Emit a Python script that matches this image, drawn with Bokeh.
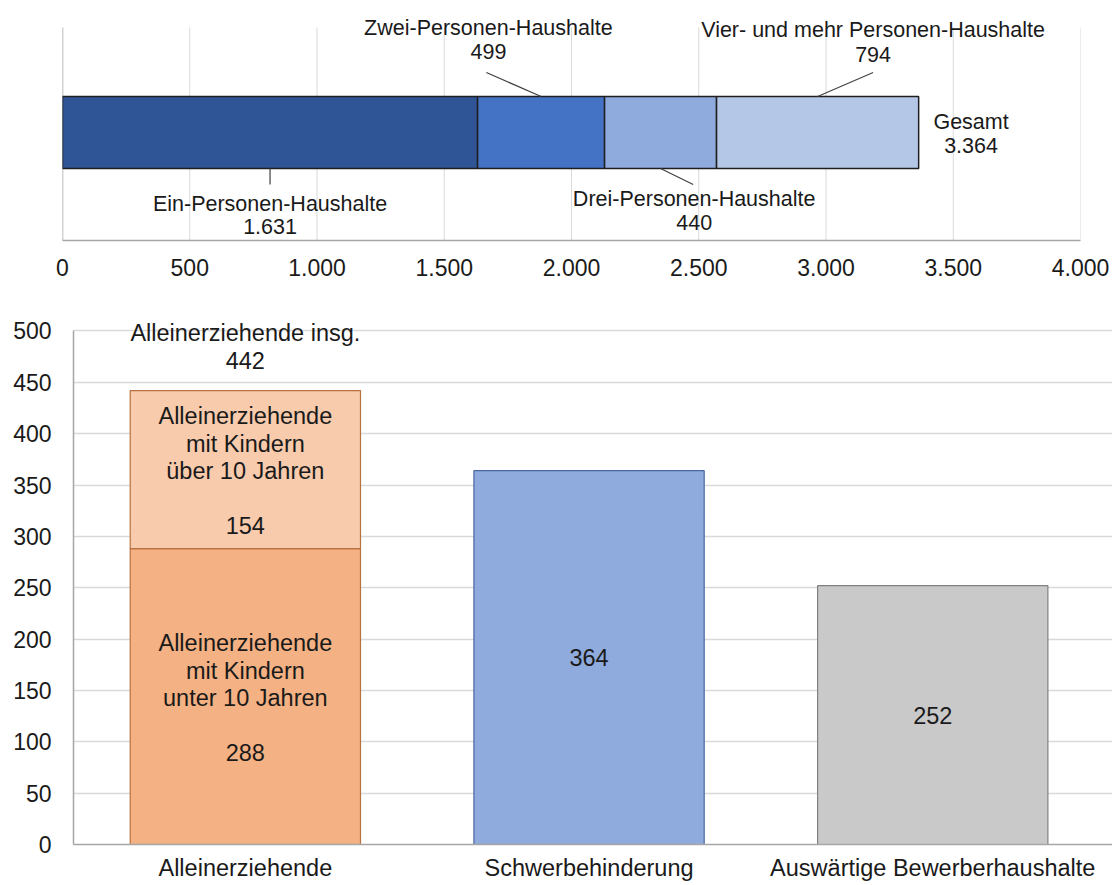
from bokeh.plotting import figure
from bokeh.models import Range1d, FixedTicker, ColumnDataSource, LabelSet
from bokeh.core.properties import value
from bokeh.embed import file_html
from bokeh.resources import INLINE

# ---------------- data: household sizes (top) ----------------
hh_names = ["Ein-Personen-Haushalte", "Zwei-Personen-Haushalte",
            "Drei-Personen-Haushalte", "Vier- und mehr Personen-Haushalte"]
hh_values = [1631, 499, 440, 794]
hh_colors = ["#2F5597", "#4472C4", "#8FAADC", "#B4C7E7"]
total_name = "Gesamt"
x_ticks = [0, 500, 1000, 1500, 2000, 2500, 3000, 3500, 4000]
x_tick_labels = ["0", "500", "1.000", "1.500", "2.000", "2.500", "3.000", "3.500", "4.000"]

# ---------------- data: special groups (bottom) ----------------
categories = ["Alleinerziehende", "Schwerbehinderung", "Auswärtige Bewerberhaushalte"]
ae_under10 = 288
ae_over10 = 154
schwerbehinderung = 364
auswaertig = 252
y_ticks = [0, 50, 100, 150, 200, 250, 300, 350, 400, 450, 500]

FONT = "Liberation Sans"
TXT = "#1A1A1A"


def de(v):
    return f"{v:,}".replace(",", ".")


def add_labels(p, xs, ys, texts, size):
    src = ColumnDataSource(dict(x=xs, y=ys, t=texts))
    p.add_layout(LabelSet(x="x", y="y", text="t", source=src, text_align="center",
                          text_baseline="middle", text_font=value(FONT),
                          text_font_size=value(size), text_color=TXT))


# ================= top chart =================
lefts, rights = [], []
acc = 0
for v in hh_values:
    lefts.append(acc)
    acc += v
    rights.append(acc)
total = acc
mids = [(l + r) / 2 for l, r in zip(lefts, rights)]

Y0, GRID_TOP, Y1 = -1.014, 0.986, 1.2395
p1 = figure(width=1112, height=292, x_range=Range1d(0, 4000), y_range=Range1d(Y0, Y1),
            output_backend="svg", toolbar_location=None,
            min_border_left=62, min_border_right=32, min_border_top=0, min_border_bottom=52)
p1.outline_line_color = None
p1.xgrid.grid_line_color = None
p1.ygrid.grid_line_color = None
p1.yaxis.visible = False

# vertical gridlines at the ticks, stopping at the chart area top
n = len(x_ticks) - 1
p1.segment(x0=x_ticks[1:], y0=[Y0] * n, x1=x_ticks[1:], y1=[GRID_TOP] * n,
           line_color="#D9D9D9", line_width=1)
p1.segment(x0=[x_ticks[0]], y0=[Y0], x1=[x_ticks[0]], y1=[GRID_TOP],
           line_color="#A6A6A6", line_width=1.5)

src1 = ColumnDataSource(dict(y=[0] * len(hh_values), left=lefts, right=rights, c=hh_colors))
p1.hbar(y="y", left="left", right="right", height=0.676, fill_color="c",
        line_color="#1F1F1F", line_width=1.5, source=src1)

p1.xaxis.ticker = FixedTicker(ticks=x_ticks)
p1.xaxis.major_label_overrides = {t: l for t, l in zip(x_ticks, x_tick_labels)}
p1.xaxis.major_label_text_font = FONT
p1.xaxis.major_label_text_font_size = "23px"
p1.xaxis.major_label_text_color = TXT
p1.xaxis.major_label_standoff = 12
p1.xaxis.major_tick_line_color = None
p1.xaxis.minor_tick_line_color = None
p1.xaxis.axis_line_color = "#A6A6A6"
p1.xaxis.axis_line_width = 1.5

# leader lines: from segment edge to label
bar_top, bar_bot = 0.338, -0.338
lead_x0 = [mids[0], mids[1], mids[2], mids[3]]
lead_y0 = [bar_bot, bar_top, bar_bot, bar_top]
lead_x1 = [mids[0], mids[1] - 215, mids[2] + 128, mids[3] + 218]
lead_y1 = [-0.488, 0.563, -0.488, 0.563]
p1.segment(x0=lead_x0, y0=lead_y0, x1=lead_x1, y1=lead_y1, line_color="#404040", line_width=1.2)

lab_x = [mids[0], mids[1] - 207, mids[2] + 132, mids[3] + 218]
name_y = [-0.667, 0.977, -0.629, 0.958]
val_y = [-0.883, 0.761, -0.845, 0.732]
add_labels(p1, lab_x + [total + 206], name_y + [0.094], hh_names + [total_name], "21.5px")
add_labels(p1, lab_x + [total + 206], val_y + [-0.122],
           [de(v) for v in hh_values] + [de(total)], "21.5px")

# ================= bottom chart =================
cx = [i + 0.5 for i in range(len(categories))]
p2 = figure(width=1112, height=593, x_range=Range1d(0, 3.023),
            y_range=Range1d(0, 518), output_backend="svg", toolbar_location=None,
            min_border_left=73, min_border_right=0, min_border_top=20, min_border_bottom=41)
p2.outline_line_color = None
p2.xgrid.grid_line_color = None
p2.ygrid.ticker = FixedTicker(ticks=y_ticks)
p2.ygrid.grid_line_color = "#D9D9D9"
p2.ygrid.grid_line_width = 1.5

W = 0.67
ae_total = ae_under10 + ae_over10
p2.vbar(x=[cx[0]], bottom=[0], top=[ae_under10], width=W,
        fill_color="#F4B183", line_color="#B8713F", line_width=1.2)
p2.vbar(x=[cx[0]], bottom=[ae_under10], top=[ae_total], width=W,
        fill_color="#F8CBAD", line_color="#B8713F", line_width=1.2)
p2.vbar(x=[cx[1]], bottom=[0], top=[schwerbehinderung], width=W,
        fill_color="#8FAADC", line_color="#4A67A0", line_width=1.2)
p2.vbar(x=[cx[2]], bottom=[0], top=[auswaertig], width=W,
        fill_color="#C9C9C9", line_color="#808080", line_width=1.2)

p2.yaxis.ticker = FixedTicker(ticks=y_ticks)
p2.yaxis.bounds = (y_ticks[0], y_ticks[-1])
p2.yaxis.major_label_text_font = FONT
p2.yaxis.major_label_text_font_size = "23px"
p2.yaxis.major_label_text_color = TXT
p2.yaxis.major_label_standoff = 22
p2.yaxis.major_tick_line_color = None
p2.yaxis.minor_tick_line_color = None
p2.yaxis.major_tick_out = 0
p2.yaxis.axis_line_color = "#A6A6A6"
p2.yaxis.axis_line_width = 1.5

p2.xaxis.ticker = FixedTicker(ticks=cx)
p2.xaxis.major_label_overrides = {x: c for x, c in zip(cx, categories)}
p2.xaxis.major_label_text_font = FONT
p2.xaxis.major_label_text_font_size = "23.5px"
p2.xaxis.major_label_text_color = TXT
p2.xaxis.major_label_standoff = 10
p2.xaxis.major_tick_out = 0
p2.xaxis.major_tick_in = 0
p2.xaxis.major_tick_line_color = None
p2.xaxis.minor_tick_line_color = None
p2.xaxis.axis_line_color = "#A6A6A6"
p2.xaxis.axis_line_width = 1.5

c0 = cx[0]
up_mid = ae_under10 + ae_over10 / 2
lo_mid = ae_under10 / 2
offs = [52, 24.5, -1.5]
add_labels(p2, [c0] * 3, [up_mid + o for o in offs],
           ["Alleinerziehende", "mit Kindern", "über 10 Jahren"], "23.5px")
add_labels(p2, [c0] * 3, [lo_mid + o for o in offs],
           ["Alleinerziehende", "mit Kindern", "unter 10 Jahren"], "23.5px")
add_labels(p2, [c0, c0, c0, c0, cx[1], cx[2]],
           [up_mid - 54, lo_mid - 54.5, ae_total + 56, ae_total + 29,
            schwerbehinderung / 2, auswaertig / 2],
           [de(ae_over10), de(ae_under10), "Alleinerziehende insg.", de(ae_total),
            de(schwerbehinderung), de(auswaertig)], "23.5px")

open("out.html", "w").write(file_html([p1, p2], INLINE))
